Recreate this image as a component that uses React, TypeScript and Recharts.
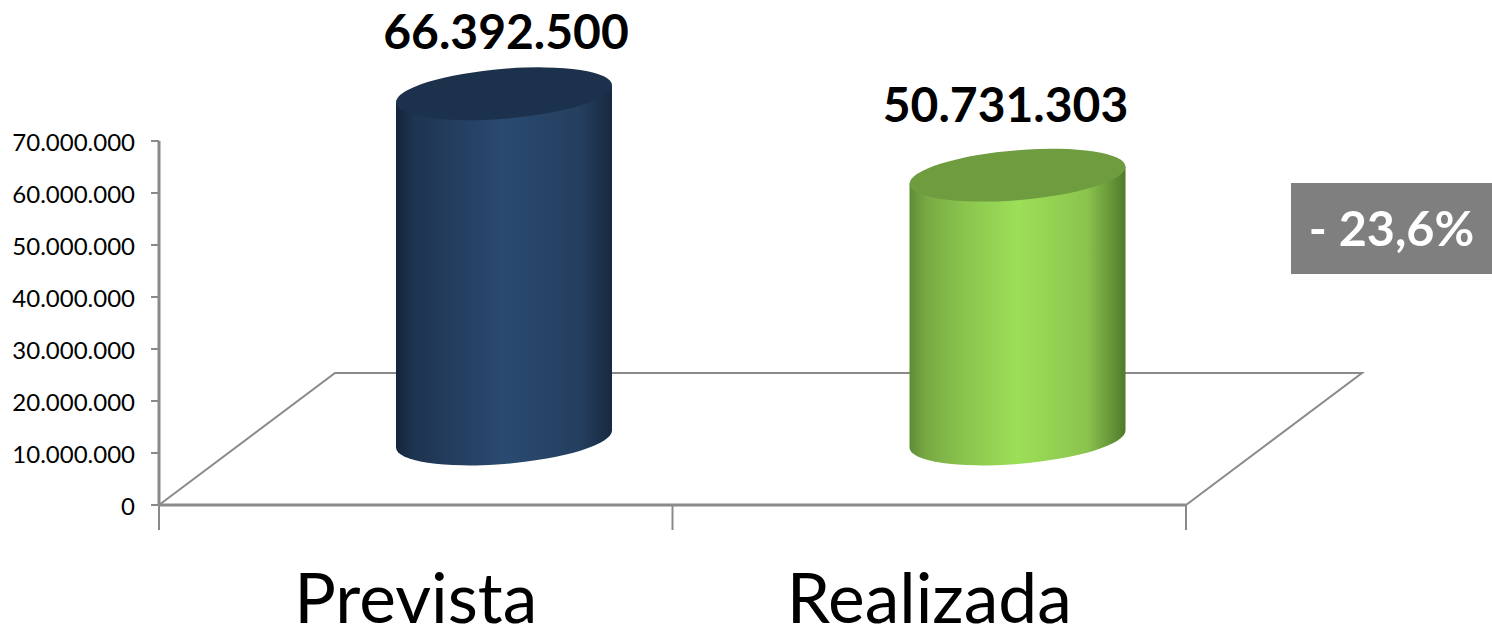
import { BarChart, Bar, XAxis, YAxis, LabelList } from "recharts";

const categories = ["Prevista", "Realizada"];
const values = [66392500, 50731303];
const yTicks = [0, 10000000, 20000000, 30000000, 40000000, 50000000, 60000000, 70000000];
const badgeText = "- 23,6%";

const WIDTH = 1492;
const HEIGHT = 628;
const FONT = "Lato, Carlito, sans-serif";
const AXIS_COLOR = "#8a8a8a";

// plot box, floor depth and cylinder shape, all in pixels
const PLOT = { left: 159, top: 141, right: 1186, bottom: 505 };
const DEPTH_X = 176;
const DEPTH_Y = 132;
const RY = 25;
const SHEAR = 0.079;
const labelNudge = [
  { dx: 2, dy: -57 },
  { dx: -12, dy: -66 },
];

const fills = [
  { body: "url(#cylBlue)", top: "#1c314b" },
  { body: "url(#cylGreen)", top: "#6f9c3f" },
];

const data = categories.map((name, i) => ({ name, value: values[i] }));

const formatThousands = (v: number) => String(v).replace(/\B(?=(\d{3})+(?!\d))/g, ".");

function Cylinder(props: any) {
  const { x, y, width, height, index } = props;
  const a = width / 2;
  const cx = x + a + DEPTH_X / 2;
  const cy = y - DEPTH_Y / 2;
  const c = fills[index];
  const body = `M ${-a} 0 L ${-a} ${height} A ${a} ${RY} 0 0 0 ${a} ${height} L ${a} 0 Z`;
  return (
    <g transform={`matrix(1 ${-SHEAR} 0 1 ${cx} ${cy})`}>
      <path d={body} fill={c.body} />
      <ellipse cx={0} cy={0} rx={a} ry={RY} fill={c.top} />
    </g>
  );
}

function ValueLabel(props: any) {
  const { x, y, width, value, index } = props;
  const n = labelNudge[index];
  return (
    <text
      x={x + width / 2 + DEPTH_X / 2 + n.dx}
      y={y - DEPTH_Y / 2 + n.dy}
      textAnchor="middle"
      dominantBaseline="middle"
      fontFamily={FONT}
      fontWeight={700}
      fontSize={48}
      fill="#000"
    >
      {formatThousands(value)}
    </text>
  );
}

function Floor() {
  const { left, right, bottom } = PLOT;
  const mid = (left + right) / 2;
  const line = { stroke: AXIS_COLOR, strokeWidth: 2, fill: "none" };
  return (
    <g>
      <path
        d={`M ${left} ${bottom} L ${left + DEPTH_X} ${bottom - DEPTH_Y} L ${right + DEPTH_X} ${bottom - DEPTH_Y} L ${right} ${bottom}`}
        {...line}
      />
      {[left, mid, right].map((tx) => (
        <line key={tx} x1={tx} x2={tx} y1={bottom} y2={bottom + 25} {...line} />
      ))}
    </g>
  );
}

export default function App() {
  return (
    <div style={{ position: "absolute", left: 0, top: 0, width: WIDTH, height: HEIGHT, background: "#fff", overflow: "hidden" }}>
      <BarChart
        width={WIDTH}
        height={HEIGHT}
        data={data}
        barSize={216}
        margin={{ top: PLOT.top, right: WIDTH - PLOT.right, bottom: 0, left: 0 }}
      >
        <defs>
          <linearGradient id="cylBlue" x1="0" y1="0" x2="1" y2="0">
            <stop offset="0%" stopColor="#14243a" />
            <stop offset="8%" stopColor="#1e3450" />
            <stop offset="50%" stopColor="#2a4a70" />
            <stop offset="85%" stopColor="#243f5f" />
            <stop offset="100%" stopColor="#18293f" />
          </linearGradient>
          <linearGradient id="cylGreen" x1="0" y1="0" x2="1" y2="0">
            <stop offset="0%" stopColor="#5f8c36" />
            <stop offset="8%" stopColor="#78aa44" />
            <stop offset="25%" stopColor="#8ac44e" />
            <stop offset="50%" stopColor="#9cdf58" />
            <stop offset="82%" stopColor="#8cc44e" />
            <stop offset="100%" stopColor="#4f7a2b" />
          </linearGradient>
        </defs>
        <Floor />
        <XAxis
          dataKey="name"
          height={HEIGHT - PLOT.bottom}
          interval={0}
          tickLine={false}
          axisLine={{ stroke: AXIS_COLOR, strokeWidth: 3 }}
          tick={{ fontFamily: FONT, fontSize: 69.5, fill: "#000" }}
          tickMargin={63}
        />
        <YAxis
          width={PLOT.left}
          domain={[0, 70000000]}
          ticks={yTicks}
          interval={0}
          tickSize={8}
          tickMargin={16}
          tickLine={{ stroke: AXIS_COLOR, strokeWidth: 2 }}
          axisLine={{ stroke: AXIS_COLOR, strokeWidth: 3 }}
          tick={{ fontFamily: FONT, fontSize: 24, fill: "#000", dy: 1 }}
          tickFormatter={formatThousands}
        />
        <Bar dataKey="value" shape={<Cylinder />} isAnimationActive={false}>
          <LabelList dataKey="value" content={<ValueLabel />} />
        </Bar>
      </BarChart>
      <div
        style={{
          position: "absolute",
          left: 1291,
          top: 183,
          width: 201,
          height: 91,
          background: "#7f7f7f",
          color: "#fff",
          fontFamily: FONT,
          fontWeight: 700,
          fontSize: 48.5,
          lineHeight: "89px",
          textAlign: "center",
        }}
      >
        {badgeText}
      </div>
    </div>
  );
}
